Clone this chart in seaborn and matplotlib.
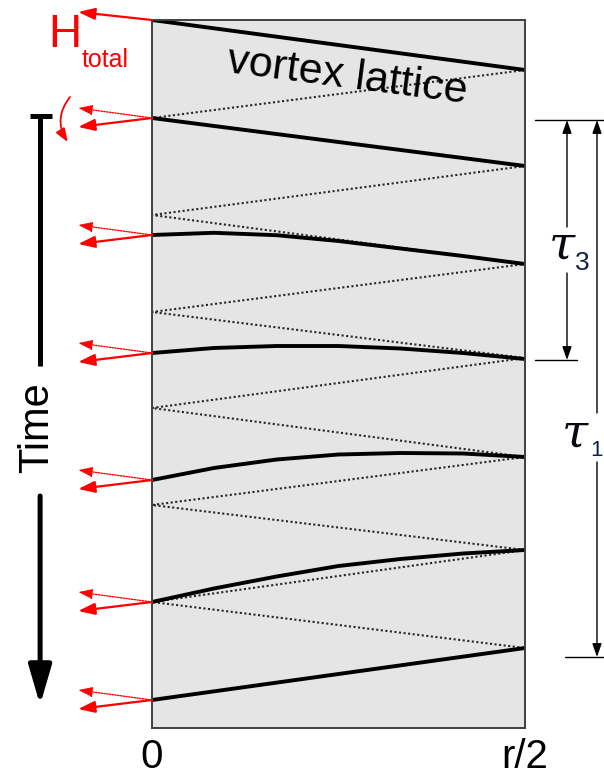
import numpy as np
import pandas as pd
import seaborn as sns
import matplotlib.pyplot as plt

# position across the half sample (units of r) and time (arb. units, downwards)
x_curve = [0, 0.083, 0.167, 0.25, 0.333, 0.417, 0.5]
x_ends = [0, 0.5]

# vortex lattice profile at successive times
lat1_t = [0, 50]
lat2_t = [98, 146]
lat3_t = [215, 212.8, 215.2, 221, 228.5, 236, 244]
lat4_t = [333, 328, 326, 326, 328.5, 333, 339]
lat5_t = [460, 448, 439.5, 434.5, 433, 433.5, 437]
lat6_t = [582, 568.5, 556.5, 546, 539, 533.5, 530]
lat7_t = [680, 628]

# front bouncing between centre (0) and edge (r/2)
edge_t = [50, 146, 244, 338, 437, 530, 628]
centre_t = [98, 195, 292, 388, 485, 582]

# times of the field arrows at the centre
field_t = [98, 215, 333, 460, 582, 680]

tau3 = (100, 340)
tau1 = (100, 637)

sns.set_theme(style='white')
plt.rcParams['font.family'] = ['Liberation Sans', 'DejaVu Sans']
plt.rcParams['text.color'] = 'black'
plt.rcParams['xtick.color'] = 'black'

fig = plt.figure(figsize=(6.04, 7.78), dpi=100)
ax = fig.add_axes([152 / 604, 50 / 778, 373 / 604, 708 / 778])
ax.set_facecolor('#e5e5e5')
for s in ax.spines.values():
    s.set_visible(True)
    s.set_color('#404040')
    s.set_linewidth(1.4)

# dotted zig-zag
zx, zt = [], []
for i in range(len(centre_t)):
    zx += [0.5, 0]
    zt += [edge_t[i], centre_t[i]]
zx.append(0.5)
zt.append(edge_t[-1])
zig = pd.DataFrame({'x': zx, 't': zt})
sns.lineplot(data=zig, x='x', y='t', sort=False, estimator=None, color='#262626',
             linewidth=1.5, linestyle=(0, (1, 1.2)), ax=ax)

# lattice lines
rows = []
for k, tt in enumerate([lat1_t, lat2_t, lat3_t, lat4_t, lat5_t, lat6_t, lat7_t]):
    xs = x_ends if len(tt) == 2 else x_curve
    for xv, tv in zip(xs, tt):
        rows.append((k, xv, tv))
lat = pd.DataFrame(rows, columns=['curve', 'x', 't'])
sns.lineplot(data=lat, x='x', y='t', units='curve', estimator=None, sort=False,
             color='black', linewidth=2.8, ax=ax)

ax.set_xlim(0, 0.5)
ax.set_ylim(708, 0)
ax.set_xticks([0, 0.5], ['0', 'r/2'], fontsize=29)
ax.tick_params(axis='x', length=0, pad=7, colors='black')
ax.set_yticks([])
ax.set_xlabel('')
ax.set_ylabel('')

ax.text(0.262, 57, 'vortex lattice', fontsize=31, rotation=-7.4,
        ha='center', va='center', color='black')


def arrow(x0, y0, x1, y1, **kw):
    props = dict(shrinkA=0, shrinkB=0, mutation_scale=10)
    props.update(kw)
    ax.annotate('', xy=(x1, y1), xytext=(x0, y0), annotation_clip=False,
                arrowprops=props)


# field arrows
tip_x = -0.099
arrow(0, 0, tip_x, -8, arrowstyle='-|>,head_length=1.0,head_width=0.35',
      color='red', lw=1.6)
for t0 in field_t:
    arrow(0, t0, tip_x, t0 - 10, arrowstyle='-|>,head_length=0.85,head_width=0.3',
          color='red', lw=1.0, linestyle=(0, (1, 1)))
    arrow(0, t0, tip_x, t0 + 9, arrowstyle='-|>,head_length=1.0,head_width=0.35',
          color='red', lw=1.6)
arrow(-0.110, 77, -0.113, 122, arrowstyle='-|>,head_length=0.8,head_width=0.3',
      color='red', lw=1.3, connectionstyle='arc3,rad=0.35')

ax.text(-0.1166, 15, 'H', fontsize=33, color='red', ha='center', va='center')
ax.text(-0.063, 40, 'total', fontsize=18, color='red', ha='center', va='center')

# time axis
tx = -0.150
ax.plot([tx, tx], [96, 346], color='black', lw=3.6, clip_on=False,
        solid_capstyle='butt')
ax.plot([-0.164, -0.134], [96, 96], color='black', lw=3.6, clip_on=False,
        solid_capstyle='butt')
arrow(tx, 476, tx, 685, arrowstyle='-|>,head_length=2.4,head_width=0.7',
      color='black', lw=3.6)
ax.text(-0.154, 408, 'Time', fontsize=30, rotation=90, ha='center', va='center',
        color='black')

# tau brackets
for (x0, x1, t) in [(0.5134, 0.6059, tau3[0]), (0.5134, 0.5697, tau3[1]),
                    (0.5536, 0.6059, tau1[1])]:
    ax.plot([x0, x1], [t, t], color='black', lw=1.0, clip_on=False)

hs = '-|>,head_length=0.8,head_width=0.28'
arrow(0.5563, 207, 0.5563, tau3[0], arrowstyle=hs, color='black', lw=1.0)
arrow(0.5563, 253, 0.5563, tau3[1], arrowstyle=hs, color='black', lw=1.0)
arrow(0.5965, 393, 0.5965, tau1[0], arrowstyle=hs, color='black', lw=1.0)
arrow(0.5965, 442, 0.5965, tau1[1], arrowstyle=hs, color='black', lw=1.0)

ax.text(0.549, 226, 'τ', fontsize=34, family='DejaVu Serif', style='italic',
        ha='center', va='center', color='#0a0a14')
ax.text(0.577, 243, '3', fontsize=19, ha='center', va='center', color='#10204a')
ax.text(0.5665, 414, 'τ', fontsize=34, family='DejaVu Serif', style='italic',
        ha='center', va='center', color='#0a0a14')
ax.text(0.5965, 430, '1', fontsize=16, ha='center', va='center', color='#10204a')

fig.savefig('out.png', dpi=100)
